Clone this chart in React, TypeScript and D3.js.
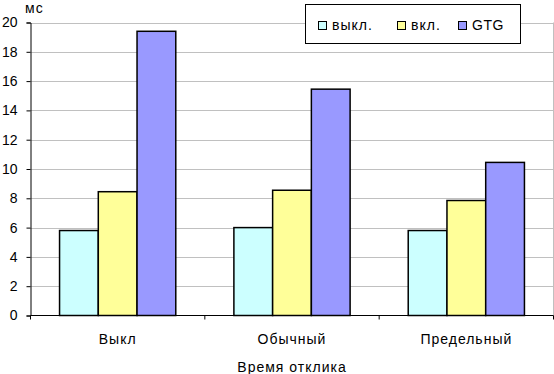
import React, { useEffect, useRef } from "react";
import * as d3 from "d3";

const categories = ["Выкл", "Обычный", "Предельный"];
const seriesNames = ["выкл.", "вкл.", "GTG"];
const seriesColors = ["#ccffff", "#ffff99", "#9999ff"];
const valuesOff = [5.8, 6.0, 5.8];
const valuesOn = [8.45, 8.55, 7.85];
const valuesGtg = [19.4, 15.45, 10.45];
const yTicks = [0, 2, 4, 6, 8, 10, 12, 14, 16, 18, 20];

export default function App() {
  const ref = useRef<SVGSVGElement | null>(null);

  useEffect(() => {
    const svg = d3.select(ref.current);
    svg.selectAll("*").remove();

    const left = 30.5, right = 553.5, top = 22.5, bottom = 315.5;
    const font = "'Liberation Sans', Arial, sans-serif";

    const x = d3.scaleBand().domain(categories).range([left, right]).padding(0);
    const y = d3.scaleLinear().domain([0, 20]).range([bottom, top]);

    const bw = x.bandwidth() / 4.5;
    const series = [valuesOff, valuesOn, valuesGtg];

    // gridlines
    svg.append("g")
      .selectAll("line")
      .data(yTicks.filter(d => d > 0))
      .join("line")
      .attr("x1", left).attr("x2", right)
      .attr("y1", d => Math.round(y(d)) + 0.5).attr("y2", d => Math.round(y(d)) + 0.5)
      .attr("stroke", "#c0c0c0");

    // right border of plot area
    svg.append("line")
      .attr("x1", right).attr("x2", right)
      .attr("y1", top).attr("y2", bottom)
      .attr("stroke", "#c0c0c0");

    // bars
    series.forEach((vals, si) => {
      svg.append("g")
        .selectAll("rect")
        .data(vals)
        .join("rect")
        .attr("x", (d, i) => x(categories[i])! + bw * 0.75 + si * bw)
        .attr("y", d => y(d))
        .attr("width", bw)
        .attr("height", d => y(0) - y(d))
        .attr("fill", seriesColors[si])
        .attr("stroke", "#000")
        .attr("stroke-width", 1.5);
    });

    // y axis
    const yAxis = svg.append("g")
      .attr("transform", `translate(${left},0)`)
      .call(d3.axisLeft(y).tickValues(yTicks).tickSize(4).tickPadding(9));
    yAxis.select(".domain").attr("stroke", "#000");
    yAxis.selectAll("text").attr("font-family", font).attr("font-size", 14).attr("fill", "#000");

    // x axis
    const xAxis = svg.append("g")
      .attr("transform", `translate(0,${bottom})`)
      .call(d3.axisBottom(x).tickSize(0).tickPadding(19));
    xAxis.select(".domain").remove();
    xAxis.selectAll("text")
      .attr("font-family", font).attr("font-size", 14)
      .attr("letter-spacing", 1).attr("fill", "#000");
    svg.append("line")
      .attr("x1", left).attr("x2", right)
      .attr("y1", bottom).attr("y2", bottom)
      .attr("stroke", "#000");
    const edges = [...categories.map(c => x(c)!), right];
    svg.append("g")
      .selectAll("line")
      .data(edges)
      .join("line")
      .attr("x1", d => d).attr("x2", d => d)
      .attr("y1", bottom).attr("y2", bottom + 4)
      .attr("stroke", "#000");

    svg.append("text")
      .attr("x", (left + right) / 2)
      .attr("y", 372)
      .attr("text-anchor", "middle")
      .attr("font-family", font).attr("font-size", 14)
      .attr("letter-spacing", 1)
      .text("Время отклика");

    svg.append("text")
      .attr("x", 25)
      .attr("y", 13)
      .attr("font-family", font).attr("font-size", 14)
      .attr("letter-spacing", 1)
      .text("мс");

    // legend
    const lg = svg.append("g");
    lg.append("rect")
      .attr("x", 305.5).attr("y", 4.5)
      .attr("width", 215).attr("height", 39)
      .attr("fill", "#fff").attr("stroke", "#000");
    const lx = [318, 397, 458];
    seriesNames.forEach((name, i) => {
      lg.append("rect")
        .attr("x", lx[i] + 0.5).attr("y", 21.5)
        .attr("width", 8).attr("height", 8)
        .attr("fill", seriesColors[i]).attr("stroke", "#000");
      lg.append("text")
        .attr("x", lx[i] + 14).attr("y", 29.5)
        .attr("font-family", font).attr("font-size", 14)
        .attr("letter-spacing", i === 2 ? 0.5 : 1)
        .text(name);
    });
  }, []);

  return (
    <svg ref={ref} width={554} height={374}
      style={{ position: "absolute", left: 0, top: 0, background: "#fff" }} />
  );
}
